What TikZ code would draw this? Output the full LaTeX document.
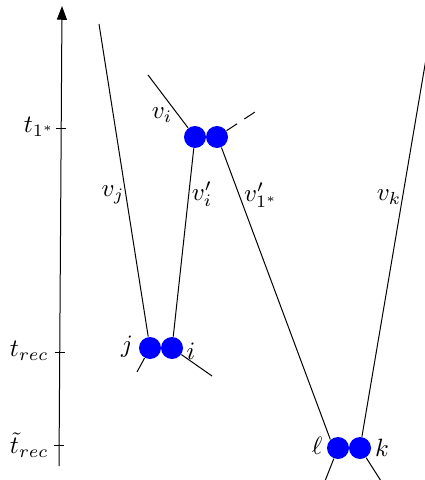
\documentclass[tikz,border=0pt]{standalone}
\usepackage{amsmath,amssymb}
\usepackage{tikz}
\usetikzlibrary{arrows.meta, positioning, calc}
\tikzset{
  dot/.style={circle, fill=blue, inner sep=0pt, minimum size=8.8pt},
  tickmark/.style={thin},
  lbl/.style={inner sep=0pt},
  axis/.style={-{Triangle[length=5.5pt, width=4pt]}}
}

\begin{document}
\begin{tikzpicture}[x=0.4pt, y=-0.4pt]
        \clip (0,0) rectangle (425,480);
        % time axis
        \coordinate (t0) at (59,466);
        \coordinate (t1) at (62,6);
        \draw[axis] (t0) -- (t1);
        \coordinate (a1) at ($(t0)!{338/460}!(t1)$);
        \coordinate (a2) at ($(t0)!{114/460}!(t1)$);
        \coordinate (a3) at ($(t0)!{21/460}!(t1)$);
        \draw[tickmark] ([xshift=-2pt]a1) -- ([xshift=2pt]a1);
        \draw[tickmark] ([xshift=-2pt]a2) -- ([xshift=2pt]a2);
        \draw[tickmark] ([xshift=-2pt]a3) -- ([xshift=2pt]a3);
        \node[lbl, anchor=east] (lt1) at (55,127) {$t_{1^*}$};
        \node[lbl, anchor=east] (lt2) at (49,351) {$t_{rec}$};
        \node[lbl, anchor=east] (lt3) at (49,445) {$\tilde{t}_{rec}$};

        \node[dot] (tl) at (195,137) {};
        \node[dot] (tr) at (217,137) {};
        \node[dot] (j) at (150,348) {};
        \node[dot] (i) at (172,348) {};
        \node[dot] (l) at (338,448) {};
        \node[dot] (k) at (360,448) {};

        \coordinate (vjtop) at (99,24);
        \coordinate (vitop) at (148,75);
        \coordinate (dsh) at (258,110);
        \coordinate (vktop) at (436,0);
        \coordinate (jbot) at (137,372);
        \coordinate (ibot) at (212,376);
        \coordinate (lbot) at (325,481);
        \coordinate (kbot) at (381,481);

        \draw (vjtop) -- (j);
        \draw (vitop) -- (tl);
        \draw[dash pattern=on 5pt off 3.5pt] (tr) -- (dsh);
        \draw (tl) -- (i);
        \draw (tr.-67) -- (l.132);
        \draw (vktop) -- (k);
        \draw (j) -- (jbot);
        \draw (i) -- (ibot);
        \draw (l) -- (lbot);
        \draw (k) -- (kbot);

        \node[lbl] (lvj) at (113,195) {$v_j$};
        \node[lbl] (lvi) at (162,115) {$v_i$};
        \node[lbl] (lvpi) at (202,194) {$v'_i$};
        \node[lbl] (lvps) at (261,195) {$v'_{1^*}$};
        \node[lbl] (lvk) at (389,197) {$v_k$};
        \node[lbl] (lj) at (127,347) {$j$};
        \node[lbl] (li) at (191,351) {$i$};
        \node[lbl] (ll) at (317,446) {$\ell$};
        \node[lbl] (lk) at (382,448) {$k$};
      \end{tikzpicture}
\end{document}
